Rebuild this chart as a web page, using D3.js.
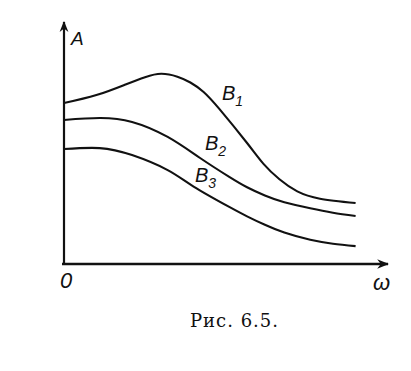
<!DOCTYPE html>
<html>
<head>
<meta charset="utf-8">
<script src="https://cdn.jsdelivr.net/npm/d3@7"></script>
<style>
  body { margin: 0; background: #fff; }
  .lbl { font-family: "Liberation Sans", sans-serif; font-style: italic; fill: #111; }
  .cap { font-family: "DejaVu Serif", serif; fill: #111; }
</style>
</head>
<body>
<div class="interactive"></div>
<script>
var width = 411;
var height = 371;

// omega values (0..10 axis units) and amplitude A for each curve
var omegaB1 = [0, 1.0, 1.9, 2.5, 3.0, 3.5, 3.9, 4.3, 4.8, 5.65, 6.15, 6.65, 7.2, 7.9, 9];
var ampB1   = [6.65, 6.98, 7.42, 7.72, 7.86, 7.74, 7.5, 7.12, 6.4, 5.0, 4.15, 3.5, 3.0, 2.7, 2.52];

var omegaB2 = [0, 1.1, 2.1, 3.2, 4.2, 5.1, 5.65, 6.2, 6.8, 7.6, 8.3, 9];
var ampB2   = [5.95, 6.03, 5.87, 5.25, 4.38, 3.6, 3.17, 2.83, 2.55, 2.3, 2.12, 1.98];

var omegaB3 = [0, 1.1, 2.1, 3.2, 4.0, 5.1, 5.65, 6.2, 6.8, 7.6, 8.3, 9];
var ampB3   = [4.75, 4.79, 4.5, 3.88, 3.2, 2.36, 1.97, 1.62, 1.3, 1.0, 0.84, 0.74];

var curveNames = ["B1", "B2", "B3"];

var svg = d3.select(".interactive")
    .append("svg")
    .attr("width", width)
    .attr("height", height);

var x = d3.scaleLinear().domain([0, 10]).range([64, 388]);
var y = d3.scaleLinear().domain([0, 10]).range([264, 22]);

// arrow heads
var defs = svg.append("defs");
defs.append("marker")
    .attr("id", "arrow")
    .attr("viewBox", "0 0 10 10")
    .attr("refX", 9)
    .attr("refY", 5)
    .attr("markerWidth", 5)
    .attr("markerHeight", 5)
    .attr("markerUnits", "strokeWidth")
    .attr("orient", "auto")
    .append("path")
    .attr("d", "M0,1 L10,5 L0,9 L3,5 Z")
    .attr("fill", "#111");

// axes
svg.append("line")
    .attr("x1", x(0) - 2).attr("y1", y(0))
    .attr("x2", x(10)).attr("y2", y(0))
    .attr("stroke", "#111")
    .attr("stroke-width", 2.4)
    .attr("marker-end", "url(#arrow)");

svg.append("line")
    .attr("x1", x(0)).attr("y1", y(0) + 1)
    .attr("x2", x(0)).attr("y2", y(10))
    .attr("stroke", "#111")
    .attr("stroke-width", 2.2)
    .attr("marker-end", "url(#arrow)");

// curves
var line = d3.line()
    .x(function(d) { return x(d[0]); })
    .y(function(d) { return y(d[1]); })
    .curve(d3.curveNatural);

var series = [
    d3.zip(omegaB1, ampB1),
    d3.zip(omegaB2, ampB2),
    d3.zip(omegaB3, ampB3)
];

svg.append("g")
    .selectAll("path")
    .data(series)
    .enter()
    .append("path")
    .attr("fill", "none")
    .attr("stroke", "#111")
    .attr("stroke-width", 2.1)
    .attr("d", line);

// curve labels
var labelPos = [[222, 100], [205, 150], [195, 182]];
curveNames.forEach(function(name, i) {
    var t = svg.append("text")
        .attr("class", "lbl")
        .attr("x", labelPos[i][0])
        .attr("y", labelPos[i][1])
        .style("font-size", "20px")
        .text("B");
    t.append("tspan")
        .attr("dy", 6)
        .style("font-size", "14px")
        .text(name.slice(1));
});

// axis labels
svg.append("text")
    .attr("class", "lbl")
    .attr("x", 71)
    .attr("y", 45)
    .style("font-size", "19px")
    .text("A");

svg.append("text")
    .attr("class", "lbl")
    .attr("x", 60)
    .attr("y", 288)
    .style("font-size", "22px")
    .text("0");

svg.append("text")
    .attr("class", "lbl")
    .attr("x", 373)
    .attr("y", 290)
    .style("font-size", "22px")
    .text("ω");

svg.append("text")
    .attr("class", "cap")
    .attr("x", 190)
    .attr("y", 327)
    .style("font-size", "18px")
    .style("letter-spacing", "1px")
    .text("Рис. 6.5.");
</script>
</body>
</html>
